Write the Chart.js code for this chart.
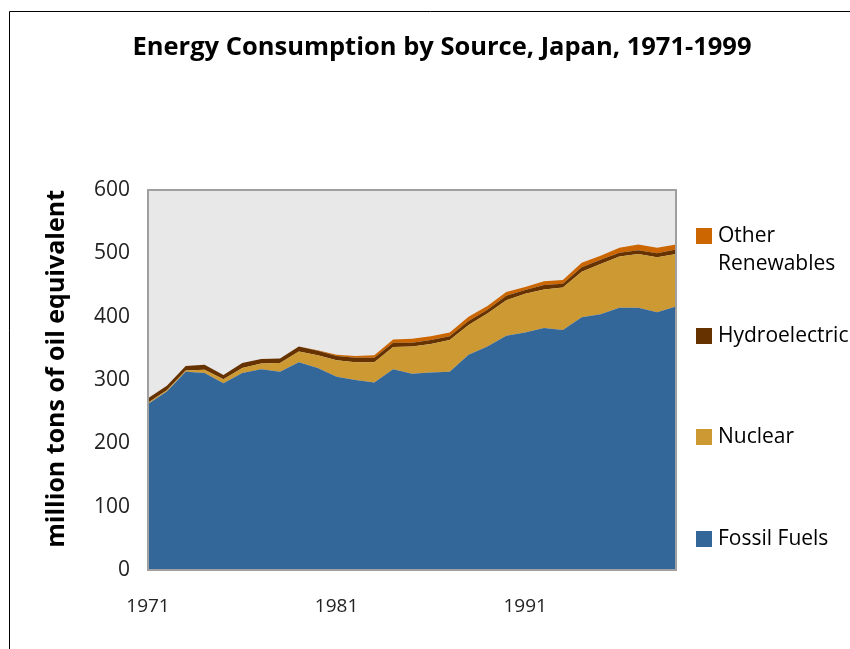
<!DOCTYPE html>
<html>
<head>
<meta charset="utf-8">
<script src="https://cdn.jsdelivr.net/npm/chart.js@4"></script>
<style>
  html, body { margin: 0; padding: 0; background: #fff; overflow: hidden; }
  canvas { display: block; }
</style>
</head>
<body>
<canvas id="chart" width="850" height="649"></canvas>
<script>
// data (million tons of oil equivalent)
var chartTitle = 'Energy Consumption by Source, Japan, 1971-1999';
var years = ['1971', '1972', '1973', '1974', '1975', '1976', '1977', '1978', '1979', '1980',
             '1981', '1982', '1983', '1984', '1985', '1986', '1987', '1988', '1989', '1990',
             '1991', '1992', '1993', '1994', '1995', '1996', '1997', '1998', '1999'];
var xTickLabels = ['1971', '1981', '1991'];
var yMin = 0, yMax = 600, yStep = 100;

var fossilFuels = [262, 282, 313, 311, 295, 311, 317, 313, 328, 319,
                   305, 300, 296, 317, 310, 312, 313, 340, 353, 370,
                   375, 382, 379, 399, 404, 414, 414, 407, 416];
var nuclear = [2, 2, 2, 5, 6, 8, 9, 14, 17, 20,
               26, 28, 32, 35, 43, 45, 50, 47, 52, 56,
               61, 61, 67, 72, 79, 81, 85, 87, 83];
var hydroelectric = [7, 7, 7, 8, 7, 8, 7, 7, 8, 7,
                     7, 7, 7, 7, 6, 6, 6, 6, 6, 7,
                     6, 7, 6, 7, 7, 6, 6, 6, 7];
var otherRenewables = [0, 0, 0, 0, 0, 0, 0, 0, 0, 1,
                       2, 3, 4, 5, 6, 6, 6, 7, 6, 6,
                       5, 6, 6, 7, 6, 8, 9, 9, 8];

var FONT = '"Open Sans", "Noto Sans", sans-serif';

// title, plot background, outer frame, plot border and the spread-out legend
var plotDecor = {
    id: 'plotDecor',
    beforeDraw: function(chart) {
        var ctx = chart.ctx, a = chart.chartArea;
        ctx.save();
        ctx.strokeStyle = '#000';
        ctx.lineWidth = 1;
        ctx.beginPath();
        ctx.moveTo(9.5, 700);
        ctx.lineTo(9.5, 11.5);
        ctx.lineTo(900, 11.5);
        ctx.stroke();
        ctx.fillStyle = '#e8e8e8';
        ctx.fillRect(a.left, a.top, a.right - a.left, a.bottom - a.top);

        ctx.fillStyle = '#000';
        ctx.font = 'bold 25.5px ' + FONT;
        ctx.textAlign = 'center';
        ctx.textBaseline = 'middle';
        ctx.fillText(chartTitle, 442, 48);
        ctx.restore();
    },
    afterDatasetsDraw: function(chart) {
        var ctx = chart.ctx, a = chart.chartArea;
        ctx.save();
        ctx.strokeStyle = '#a0a0a0';
        ctx.lineWidth = 2;
        ctx.strokeRect(a.left, a.top, a.right - a.left, a.bottom - a.top);
        ctx.restore();
    },
    afterDraw: function(chart) {
        var ctx = chart.ctx;
        var sets = chart.data.datasets.slice().reverse();
        var rows = [236, 336, 437, 539];
        ctx.save();
        ctx.font = '21px ' + FONT;
        ctx.textBaseline = 'middle';
        sets.forEach(function(ds, i) {
            var y = rows[i];
            ctx.fillStyle = ds.backgroundColor;
            ctx.fillRect(696, y - 8, 16, 16);
            ctx.fillStyle = '#000';
            var words = ds.label.split(' ');
            var lines = [], cur = '';
            words.forEach(function(w) {
                var t = cur ? cur + ' ' + w : w;
                if (cur && ctx.measureText(t).width > 125) { lines.push(cur); cur = w; }
                else cur = t;
            });
            lines.push(cur);
            lines.forEach(function(l, k) { ctx.fillText(l, 718, y + k * 28); });
        });
        ctx.restore();
    }
};

var ctx = document.getElementById('chart').getContext('2d');
var chart = new Chart(ctx, {
    type: 'line',
    data: {
        labels: years,
        datasets: [
            { label: 'Fossil Fuels', data: fossilFuels, backgroundColor: '#336699', fill: 'origin' },
            { label: 'Nuclear', data: nuclear, backgroundColor: '#cc9933', fill: '-1' },
            { label: 'Hydroelectric', data: hydroelectric, backgroundColor: '#663300', fill: '-1' },
            { label: 'Other Renewables', data: otherRenewables, backgroundColor: '#cc6600', fill: '-1' }
        ]
    },
    options: {
        responsive: false,
        animation: false,
        devicePixelRatio: 1,
        elements: {
            line: { tension: 0, borderWidth: 0, borderColor: 'rgba(0,0,0,0)' },
            point: { radius: 0, hoverRadius: 0 }
        },
        layout: { padding: { left: 0, top: 190, right: 174, bottom: 0 } },
        plugins: {
            legend: { display: false },
            tooltip: { enabled: false },
            title: { display: false }
        },
        scales: {
            x: {
                offset: false,
                grid: { display: false, drawTicks: false },
                border: { display: false },
                ticks: {
                    autoSkip: false,
                    maxRotation: 0,
                    padding: 25,
                    color: '#222',
                    font: { family: FONT, size: 19 },
                    callback: function(v, i) {
                        var lab = this.getLabelForValue(v);
                        return xTickLabels.indexOf(lab) >= 0 ? lab : '';
                    }
                },
                afterFit: function(s) { s.height = 79; }
            },
            y: {
                stacked: true,
                min: yMin,
                max: yMax,
                grid: { display: false, drawTicks: false },
                border: { display: false },
                ticks: {
                    stepSize: yStep,
                    padding: 18,
                    color: '#222',
                    font: { family: FONT, size: 21 }
                },
                title: {
                    display: true,
                    text: 'million tons of oil equivalent',
                    align: 'end',
                    color: '#000',
                    font: { family: FONT, size: 25, weight: 'bold' },
                    padding: { top: 42, bottom: 0 }
                },
                afterFit: function(s) { s.width = 148; }
            }
        }
    },
    plugins: [plotDecor]
});
</script>
</body>
</html>
